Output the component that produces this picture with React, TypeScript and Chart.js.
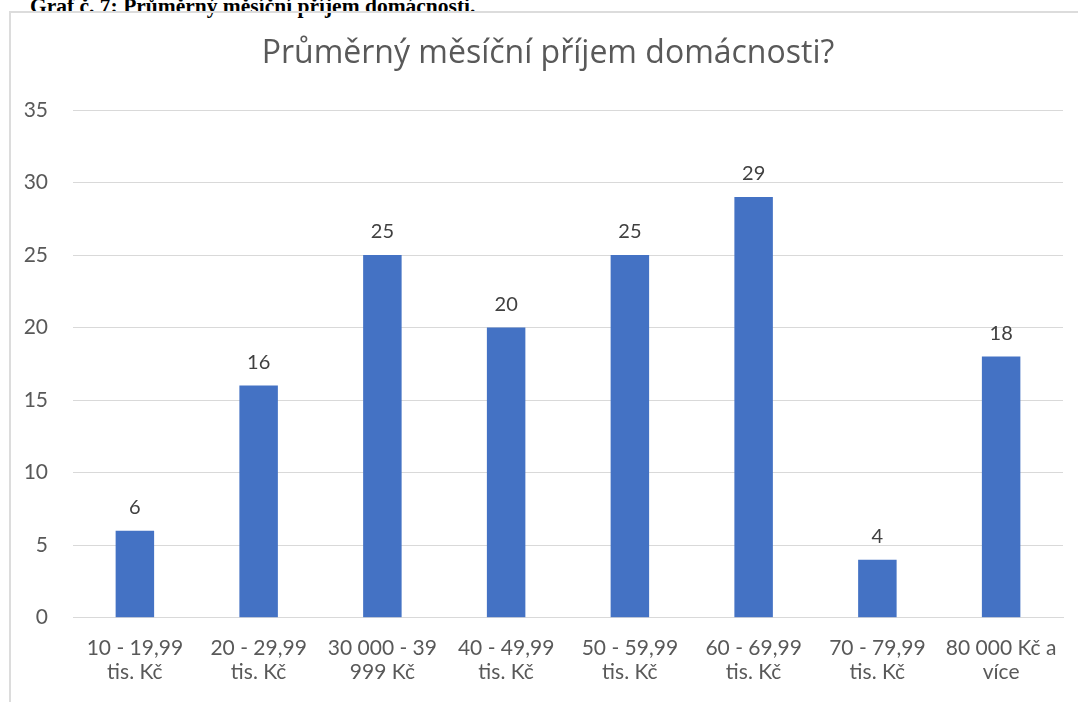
import React, { useEffect, useRef } from "react";
import { Chart, registerables } from "chart.js";

Chart.register(...registerables);

const categories: string[][] = [
  ["10 - 19,99", "tis. Kč"],
  ["20 - 29,99", "tis. Kč"],
  ["30 000 - 39", "999 Kč"],
  ["40 - 49,99", "tis. Kč"],
  ["50 - 59,99", "tis. Kč"],
  ["60 - 69,99", "tis. Kč"],
  ["70 - 79,99", "tis. Kč"],
  ["80 000 Kč a", "více"],
];
const values: number[] = [6, 16, 25, 20, 25, 29, 4, 18];
const yTicks: number[] = [0, 5, 10, 15, 20, 25, 30, 35];

const chartTitle = "Průměrný měsíční příjem domácnosti?";
const heading = "Graf č. 7: Průměrný měsíční příjem domácnosti.";

const FONT = "Lato, 'Open Sans', sans-serif";
const TITLE_FONT = "'Open Sans', Lato, sans-serif";

const valueLabels = {
  id: "valueLabels",
  afterDatasetsDraw(chart: any) {
    const ctx = chart.ctx;
    const meta = chart.getDatasetMeta(0);
    ctx.save();
    ctx.font = `20px ${FONT}`;
    ctx.fillStyle = "#404040";
    ctx.textAlign = "center";
    ctx.textBaseline = "alphabetic";
    meta.data.forEach((bar: any, i: number) => {
      ctx.fillText(String(values[i]), bar.x, bar.y - 17);
    });
    ctx.restore();
  },
};

const centeredTitle = {
  id: "centeredTitle",
  afterDraw(chart: any) {
    const ctx = chart.ctx;
    ctx.save();
    ctx.font = `32px ${TITLE_FONT}`;
    ctx.fillStyle = "#595959";
    ctx.textAlign = "center";
    ctx.textBaseline = "middle";
    ctx.fillText(chartTitle, chart.width / 2, 41.2);
    ctx.restore();
  },
};

export default function App() {
  const ref = useRef<HTMLCanvasElement>(null);

  useEffect(() => {
    if (!ref.current) return;
    const chart = new Chart(ref.current, {
      type: "bar",
      data: {
        labels: categories,
        datasets: [
          {
            data: values,
            backgroundColor: "#4472C4",
            borderWidth: 0,
            barPercentage: 0.311,
            categoryPercentage: 1,
          },
        ],
      },
      options: {
        responsive: false,
        animation: false,
        layout: { padding: { top: 97, left: 0, right: 23, bottom: 19 } },
        plugins: {
          legend: { display: false },
          tooltip: { enabled: false },
          title: { display: false },
        },
        scales: {
          x: {
            grid: { display: false },
            border: { color: "#d9d9d9", width: 1 },
            ticks: {
              color: "#595959",
              font: { family: FONT, size: 21, lineHeight: 1.15 },
              padding: 10,
              maxRotation: 0,
              autoSkip: false,
            },
          },
          y: {
            min: 0,
            max: 35,
            afterBuildTicks: (axis: any) => {
              axis.ticks = yTicks.map((v) => ({ value: v }));
            },
            afterFit: (axis: any) => {
              axis.width = 63;
            },
            border: { display: false },
            grid: { color: "#d9d9d9", lineWidth: 1, drawTicks: false },
            ticks: {
              color: "#595959",
              font: { family: FONT, size: 21 },
              padding: 25,
            },
          },
        },
      },
      plugins: [valueLabels, centeredTitle],
    });
    return () => chart.destroy();
  }, []);

  return (
    <div
      style={{
        position: "fixed",
        left: 0,
        top: 0,
        width: 1078,
        height: 702,
        background: "#fff",
        overflow: "hidden",
      }}
    >
      <div
        style={{
          position: "absolute",
          left: 30,
          top: -4,
          fontFamily: "'Liberation Serif', 'Times New Roman', serif",
          fontWeight: "bold",
          fontSize: 21.5,
          lineHeight: "21px",
          color: "#000",
          whiteSpace: "nowrap",
        }}
      >
        {heading}
      </div>
      <div
        style={{
          position: "absolute",
          left: 9,
          top: 11,
          width: 1090,
          height: 720,
          borderTop: "2px solid #dcdcdc",
          borderLeft: "2px solid #dcdcdc",
          boxSizing: "border-box",
        }}
      />
      <canvas
        ref={ref}
        width={1076}
        height={700}
        style={{ position: "absolute", left: 10, top: 13, width: 1076, height: 700 }}
      />
    </div>
  );
}
